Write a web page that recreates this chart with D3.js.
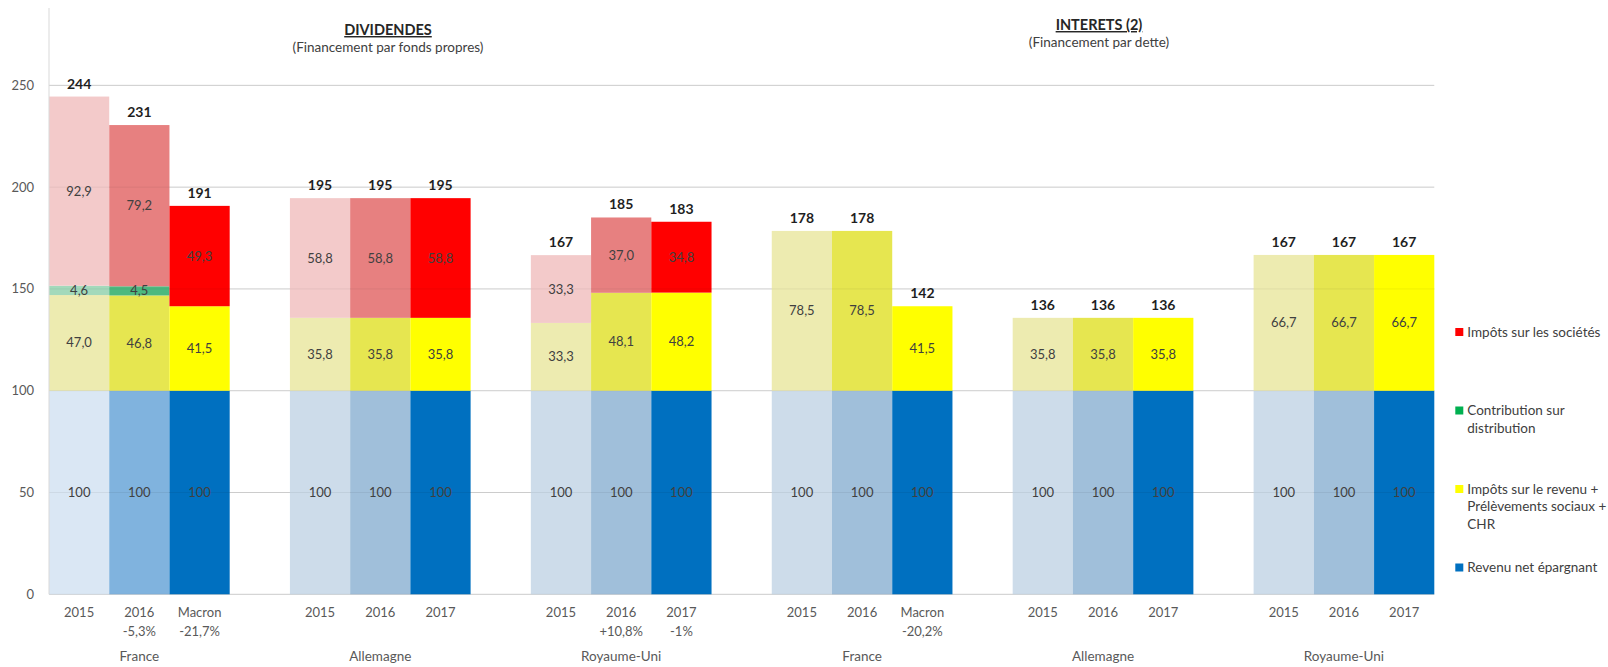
<!DOCTYPE html>
<html>
<head>
<meta charset="utf-8">
<script src="https://cdn.jsdelivr.net/npm/d3@7"></script>
<style>
	body { margin: 0; background: #fff; }
	text { font-family: Lato, 'Liberation Sans', sans-serif; }
</style>
</head>
<body>
<div id="chart"></div>
<script>
// groups: 3 dividend blocks then 3 interest blocks
var groupNames = ['France', 'Allemagne', 'Royaume-Uni', 'France', 'Allemagne', 'Royaume-Uni'];
var yearLabels = ['2015', '2016', 'Macron', '2015', '2016', '2017', '2015', '2016', '2017',
	'2015', '2016', 'Macron', '2015', '2016', '2017', '2015', '2016', '2017'];
var yearNotes = ['', '-5,3%', '-21,7%', '', '', '', '', '+10,8%', '-1%',
	'', '', '-20,2%', '', '', '', '', '', ''];

var revenuNet = [100, 100, 100, 100, 100, 100, 100, 100, 100, 100, 100, 100, 100, 100, 100, 100, 100, 100];
var impotsRevenu = [47.0, 46.8, 41.5, 35.8, 35.8, 35.8, 33.3, 48.1, 48.2, 78.5, 78.5, 41.5, 35.8, 35.8, 35.8, 66.7, 66.7, 66.7];
var contribution = [4.6, 4.5, 0, 0, 0, 0, 0, 0, 0, 0, 0, 0, 0, 0, 0, 0, 0, 0];
var impotsSocietes = [92.9, 79.2, 49.3, 58.8, 58.8, 58.8, 33.3, 37.0, 34.8, 0, 0, 0, 0, 0, 0, 0, 0, 0];
var totals = [244, 231, 191, 195, 195, 195, 167, 185, 183, 178, 178, 142, 136, 136, 136, 167, 167, 167];

var yTicks = [0, 50, 100, 150, 200, 250];
var seriesKeys = ['net', 'ir', 'contrib', 'is'];
var legendLabels = [
	['Impôts sur les sociétés'],
	['Contribution sur', 'distribution'],
	['Impôts sur le revenu +', 'Prélèvements sociaux +', 'CHR'],
	['Revenu net épargnant']
];
var legendKeys = ['is', 'contrib', 'ir', 'net'];
var titles = [
	{title: 'DIVIDENDES', sub: '(Financement par fonds propres)', x: 388, y: 35},
	{title: 'INTERETS (2)', sub: '(Financement par dette)', x: 1099, y: 30}
];

var StackedChart = function(element, opts){
	this.element = element;
	this.width = opts.width || 1608;
	this.height = opts.height || 667;
	this.plot = opts.plot;
	this.shades = opts.shades;
	this.legendColors = opts.legendColors;
};

StackedChart.prototype.init = function(){
	this.svg = d3.select(this.element).append('svg')
		.attr('width', this.width)
		.attr('height', this.height);
	this.createScales();
	this.drawGrid(this.svg.append('g'), '#d9d9d9', 1);
	this.drawBars();
	this.drawGrid(this.svg.append('g'), '#000', 0.06);
	this.drawLabels();
	this.drawAxes();
	this.drawTitles();
	this.drawLegend();
};

StackedChart.prototype.createScales = function(){
	var p = this.plot;
	this.rows = d3.range(totals.length).map(function(i){
		return {
			id: i, group: Math.floor(i / 3), bar: i % 3,
			net: revenuNet[i], ir: impotsRevenu[i], contrib: contribution[i], is: impotsSocietes[i]
		};
	});
	this.series = d3.stack().keys(seriesKeys)(this.rows);

	this.x0 = d3.scaleBand()
		.domain(d3.range(groupNames.length))
		.range([p.left, p.right])
		.paddingInner(0.25)
		.paddingOuter(0);
	this.x1 = d3.scaleBand()
		.domain([0, 1, 2])
		.range([0, this.x0.bandwidth()]);
	this.y = d3.scaleLinear()
		.domain([0, 288])
		.range([p.bottom, p.top]);
};

StackedChart.prototype.xPos = function(d){
	return this.x0(d.group) + this.x1(d.bar);
};

StackedChart.prototype.color = function(key, d){
	if(key === 'net' && d.group === 0) return this.shades.netFrance[d.bar];
	return this.shades[key][d.bar];
};

StackedChart.prototype.drawGrid = function(g, stroke, opacity){
	var _this = this;
	g.selectAll('line')
		.data(yTicks)
		.enter().append('line')
			.attr('x1', this.plot.left)
			.attr('x2', this.plot.right)
			.attr('y1', function(d){ return _this.y(d); })
			.attr('y2', function(d){ return _this.y(d); })
			.attr('stroke', stroke)
			.attr('stroke-opacity', opacity);
};

StackedChart.prototype.drawBars = function(){
	var _this = this;
	this.svg.append('g')
		.selectAll('g')
		.data(this.series)
		.enter().append('g')
		.selectAll('rect')
		.data(function(s){
			return s.filter(function(d){ return d[1] - d[0] > 0; })
				.map(function(d){ return {key: s.key, d: d}; });
		})
		.enter().append('rect')
			.attr('x', function(o){ return _this.xPos(o.d.data); })
			.attr('width', this.x1.bandwidth())
			.attr('y', function(o){ return _this.y(o.d[1]); })
			.attr('height', function(o){ return _this.y(o.d[0]) - _this.y(o.d[1]); })
			.attr('fill', function(o){ return _this.color(o.key, o.d.data); });
};

StackedChart.prototype.drawLabels = function(){
	var _this = this;
	var bw = this.x1.bandwidth();
	var dec = d3.formatLocale({decimal: ',', thousands: ' ', grouping: [3], currency: ['', '€']});
	var f1 = dec.format('.1f'), f0 = dec.format('.0f');

	this.svg.append('g')
		.selectAll('g')
		.data(this.series)
		.enter().append('g')
		.selectAll('text')
		.data(function(s){
			return s.filter(function(d){ return d[1] - d[0] > 0; })
				.map(function(d){ return {key: s.key, d: d}; });
		})
		.enter().append('text')
			.attr('x', function(o){ return _this.xPos(o.d.data) + bw / 2; })
			.attr('y', function(o){ return _this.y((o.d[0] + o.d[1]) / 2); })
			.attr('dy', '0.35em')
			.attr('text-anchor', 'middle')
			.attr('font-size', 13)
			.attr('fill', '#404040')
			.text(function(o){
				var v = o.d[1] - o.d[0];
				return o.key === 'net' ? f0(v) : f1(v);
			});

	// totals on top of each bar
	this.svg.append('g')
		.selectAll('text')
		.data(this.rows)
		.enter().append('text')
			.attr('x', function(d){ return _this.xPos(d) + bw / 2; })
			.attr('y', function(d){ return _this.y(d.net + d.ir + d.contrib + d.is) - 8; })
			.attr('text-anchor', 'middle')
			.attr('font-size', 14)
			.attr('font-weight', 'bold')
			.attr('fill', '#1f1f1f')
			.text(function(d){ return totals[d.id]; });
};

StackedChart.prototype.drawAxes = function(){
	var _this = this;
	var p = this.plot;
	var bw = this.x1.bandwidth();

	this.svg.append('line')
		.attr('x1', p.left).attr('x2', p.left)
		.attr('y1', p.top).attr('y2', p.bottom)
		.attr('stroke', '#d9d9d9');

	this.svg.append('g')
		.selectAll('text')
		.data(yTicks)
		.enter().append('text')
			.attr('x', p.left - 15)
			.attr('y', function(d){ return _this.y(d); })
			.attr('dy', '0.35em')
			.attr('text-anchor', 'end')
			.attr('font-size', 13)
			.attr('fill', '#595959')
			.text(function(d){ return d; });

	var ticks = this.svg.append('g')
		.selectAll('text')
		.data(this.rows)
		.enter().append('text')
			.attr('text-anchor', 'middle')
			.attr('font-size', 13)
			.attr('fill', '#595959');
	ticks.append('tspan')
		.attr('x', function(d){ return _this.xPos(d) + bw / 2; })
		.attr('y', p.bottom + 23)
		.text(function(d){ return yearLabels[d.id]; });
	ticks.append('tspan')
		.attr('x', function(d){ return _this.xPos(d) + bw / 2; })
		.attr('y', p.bottom + 42)
		.text(function(d){ return yearNotes[d.id]; });

	this.svg.append('g')
		.selectAll('text')
		.data(groupNames)
		.enter().append('text')
			.attr('x', function(d, i){ return _this.x0(i) + _this.x0.bandwidth() / 2; })
			.attr('y', p.bottom + 67)
			.attr('text-anchor', 'middle')
			.attr('font-size', 13.5)
			.attr('fill', '#595959')
			.text(function(d){ return d; });
};

StackedChart.prototype.drawTitles = function(){
	var g = this.svg.append('g').selectAll('g')
		.data(titles)
		.enter().append('g');
	g.append('text')
		.attr('x', function(d){ return d.x; })
		.attr('y', function(d){ return d.y; })
		.attr('text-anchor', 'middle')
		.attr('font-size', 14.5)
		.attr('font-weight', 'bold')
		.attr('fill', '#262626')
		.style('text-decoration', 'underline')
		.text(function(d){ return d.title; });
	g.append('text')
		.attr('x', function(d){ return d.x; })
		.attr('y', function(d){ return d.y + 17; })
		.attr('text-anchor', 'middle')
		.attr('font-size', 13.5)
		.attr('fill', '#404040')
		.text(function(d){ return d.sub; });
};

StackedChart.prototype.drawLegend = function(){
	var _this = this;
	var lx = this.plot.right + 21;
	var item = this.svg.append('g')
		.selectAll('g')
		.data(legendLabels)
		.enter().append('g')
			.attr('transform', function(d, i){ return 'translate(' + lx + ',' + (332 + i * 78.5) + ')'; });

	item.append('rect')
		.attr('x', 0).attr('y', -4)
		.attr('width', 8).attr('height', 8)
		.attr('fill', function(d, i){ return _this.legendColors[legendKeys[i]]; });

	item.append('text')
		.attr('font-size', 13.5)
		.attr('fill', '#404040')
		.selectAll('tspan')
		.data(function(d){ return d; })
		.enter().append('tspan')
			.attr('x', 12)
			.attr('y', function(d, j){ return j * 17.6; })
			.attr('dy', '0.35em')
			.text(function(d){ return d; });
};

var chart = new StackedChart('#chart', {
	width: 1608,
	height: 667,
	plot: {left: 49, right: 1434.3, top: 8, bottom: 594.3},
	shades: {
		net: ['#cddcea', '#a0bfda', '#0070c0'],
		netFrance: ['#dae7f4', '#80b3de', '#0070c0'],
		ir: ['#edebb0', '#e6e650', '#ffff00'],
		contrib: ['#a3d9bb', '#4db97f', '#00b050'],
		is: ['#f3caca', '#e78080', '#ff0000']
	},
	legendColors: {is: '#ff0000', contrib: '#00b050', ir: '#ffff00', net: '#0070c0'}
});
chart.init();
</script>
</body>
</html>
